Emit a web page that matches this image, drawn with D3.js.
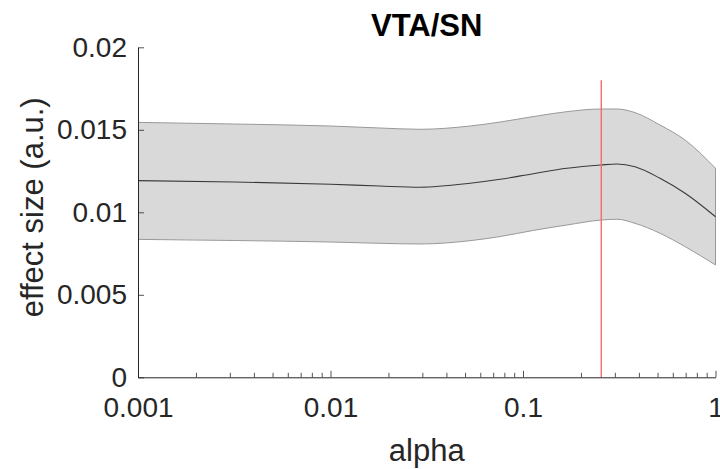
<!DOCTYPE html>
<html>
<head>
<meta charset="utf-8">
<script src="https://cdn.jsdelivr.net/npm/d3@7"></script>
<style>
  html, body { margin: 0; padding: 0; background: #fff; }
  svg { display: block; font-family: "Liberation Sans", Arial, Helvetica, sans-serif; }
</style>
</head>
<body>
<svg id="chart" width="720" height="469"></svg>
<script>
// Smoothing parameter sweep and the resulting effect size (mean with confidence band)
const alphaValues = [0.001, 0.00316, 0.01, 0.018, 0.0292, 0.0531, 0.076, 0.113, 0.169, 0.254, 0.308, 0.382, 0.515, 0.695, 1];
const meanEffect  = [0.01192, 0.01184, 0.01170, 0.01159, 0.01152, 0.01176, 0.01200, 0.01234, 0.01267, 0.01287, 0.01293, 0.01276, 0.01206, 0.01115, 0.00973];
const upperBound  = [0.01545, 0.01535, 0.01523, 0.01511, 0.01503, 0.01523, 0.01547, 0.01580, 0.01610, 0.01626, 0.01626, 0.01604, 0.01529, 0.01438, 0.01267];
const lowerBound  = [0.00836, 0.00829, 0.00820, 0.00812, 0.00808, 0.00828, 0.00853, 0.00890, 0.00923, 0.00953, 0.00958, 0.00933, 0.00873, 0.00792, 0.00681];

// Selected alpha, marked with a vertical line
const selectedAlpha = 0.255;
const selectedLineTop = 0.018;

const xTickValues = [0.001, 0.01, 0.1, 1];
const xTickLabels = ["0.001", "0.01", "0.1", "1"];
const yTickValues = [0, 0.005, 0.01, 0.015, 0.02];
const yTickLabels = ["0", "0.005", "0.01", "0.015", "0.02"];

const titleText = "VTA/SN";
const xLabelText = "alpha";
const yLabelText = "effect size (a.u.)";

const svg = d3.select("#chart");
const plotLeft = 138, plotRight = 715.5, plotTop = 47.3, plotBottom = 377.3;
const axisColor = "#262626";

const x = d3.scaleLog().domain([0.001, 1]).range([plotLeft, plotRight]);
const y = d3.scaleLinear().domain([0, 0.02]).range([plotBottom, plotTop]);

const rows = alphaValues.map((a, i) => ({ a, m: meanEffect[i], hi: upperBound[i], lo: lowerBound[i] }));

// confidence band
const area = d3.area()
  .x(d => x(d.a))
  .y0(d => y(d.lo))
  .y1(d => y(d.hi))
  .curve(d3.curveMonotoneX);

svg.append("path")
  .datum(rows)
  .attr("d", area)
  .attr("fill", "#d9d9d9")
  .attr("stroke", "none");

// band outlines
const edgeLine = key => d3.line().x(d => x(d.a)).y(d => y(d[key])).curve(d3.curveMonotoneX);
["hi", "lo"].forEach(k => {
  svg.append("path")
    .datum(rows)
    .attr("d", edgeLine(k))
    .attr("fill", "none")
    .attr("stroke", "#999999")
    .attr("stroke-width", 1);
});
// right end of the band
const last = rows[rows.length - 1];
svg.append("line")
  .attr("x1", x(last.a)).attr("x2", x(last.a))
  .attr("y1", y(last.hi)).attr("y2", y(last.lo))
  .attr("stroke", "#999999").attr("stroke-width", 1);

// mean effect
svg.append("path")
  .datum(rows)
  .attr("d", edgeLine("m"))
  .attr("fill", "none")
  .attr("stroke", "#3a3a3a")
  .attr("stroke-width", 1.1);

// selected alpha marker
svg.append("line")
  .attr("x1", x(selectedAlpha)).attr("x2", x(selectedAlpha))
  .attr("y1", y(0)).attr("y2", y(selectedLineTop))
  .attr("stroke", "#f56b6b")
  .attr("stroke-width", 1.4);

// minor ticks on the log axis
const minorTicks = [];
for (let d = 0.001; d < 1; d *= 10) {
  for (let k = 2; k <= 9; k++) minorTicks.push(+(d * k).toPrecision(3));
}

svg.append("g")
  .attr("transform", `translate(0,${plotBottom})`)
  .call(d3.axisBottom(x).tickValues(minorTicks).tickSize(-4.5).tickSizeOuter(0).tickFormat(""))
  .call(g => g.select(".domain").remove())
  .call(g => g.selectAll("line").attr("stroke", axisColor).attr("stroke-width", 0.8));

const xAxis = svg.append("g")
  .attr("transform", `translate(0,${plotBottom})`)
  .call(d3.axisBottom(x).tickValues(xTickValues).tickSize(-6.5).tickSizeOuter(0)
    .tickPadding(19.5).tickFormat((d, i) => xTickLabels[i]));
xAxis.select(".domain").attr("stroke", axisColor).attr("stroke-width", 1);
xAxis.selectAll("line").attr("stroke", axisColor).attr("stroke-width", 0.8);
xAxis.selectAll("text").attr("fill", axisColor).style("font-size", "28px").style("font-family", "'Liberation Sans', Arial, sans-serif");

const yAxis = svg.append("g")
  .attr("transform", `translate(${plotLeft},0)`)
  .call(d3.axisLeft(y).tickValues(yTickValues).tickSize(-6).tickSizeOuter(0)
    .tickPadding(11).tickFormat((d, i) => yTickLabels[i]));
yAxis.select(".domain").attr("stroke", axisColor).attr("stroke-width", 1);
yAxis.selectAll("line").attr("stroke", axisColor).attr("stroke-width", 0.8);
yAxis.selectAll("text").attr("fill", axisColor).style("font-size", "28px").style("font-family", "'Liberation Sans', Arial, sans-serif");

// labels
svg.append("text")
  .attr("x", (plotLeft + plotRight) / 2).attr("y", 36)
  .attr("text-anchor", "middle")
  .attr("font-weight", "bold")
  .attr("font-size", 31)
  .attr("fill", "#000")
  .text(titleText);

svg.append("text")
  .attr("x", (plotLeft + plotRight) / 2).attr("y", 461)
  .attr("text-anchor", "middle")
  .attr("font-size", 31)
  .attr("fill", axisColor)
  .text(xLabelText);

svg.append("text")
  .attr("transform", `translate(43,${(plotTop + plotBottom) / 2 - 5}) rotate(-90)`)
  .attr("text-anchor", "middle")
  .attr("font-size", 31)
  .attr("fill", axisColor)
  .text(yLabelText);
</script>
</body>
</html>
